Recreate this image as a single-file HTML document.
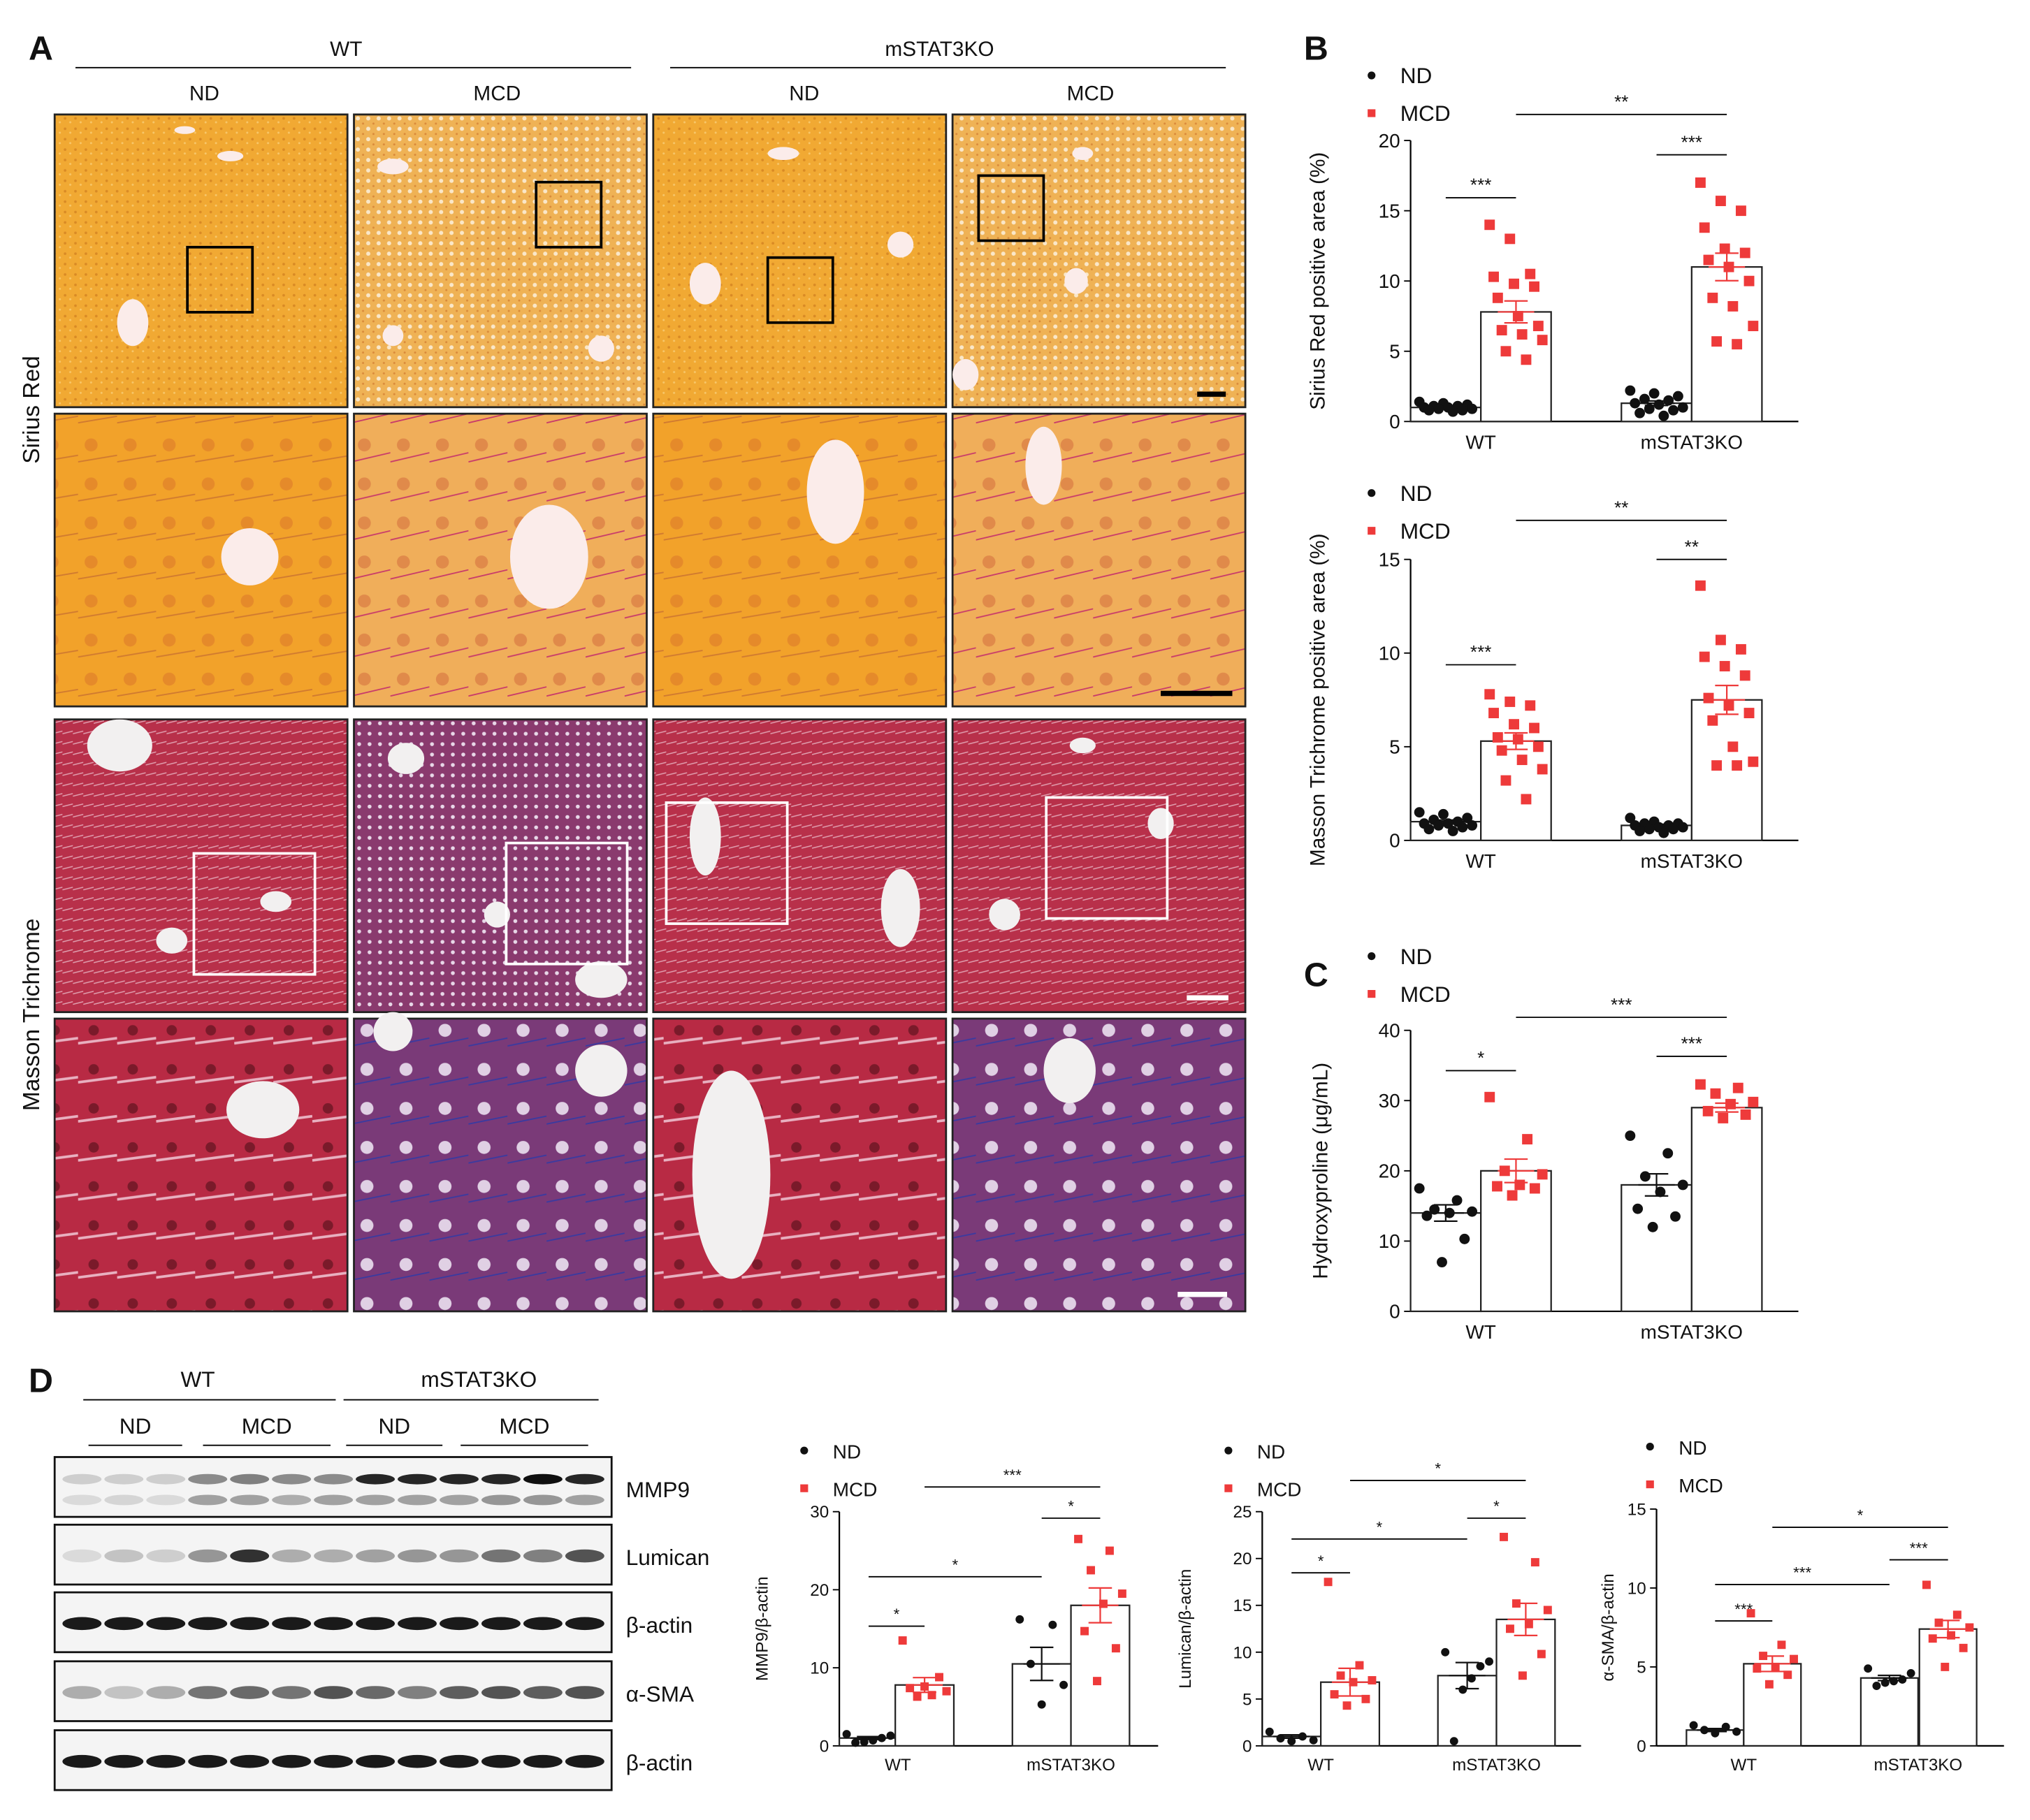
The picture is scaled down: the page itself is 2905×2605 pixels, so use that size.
<!DOCTYPE html>
<html><head><meta charset="utf-8"><style>
html,body{margin:0;padding:0;background:#fff}
svg{display:block}
text{font-family:"Liberation Sans",sans-serif;fill:#111}
</style></head><body>
<svg id="fig" width="2905" height="2605" viewBox="0 0 1560 1399" preserveAspectRatio="none" xmlns="http://www.w3.org/2000/svg">
<defs>
<pattern id="pSR" width="8" height="8" patternUnits="userSpaceOnUse"><rect width="8" height="8" fill="#f1a933"/><circle cx="2" cy="3" r="1" fill="#d98a25"/><circle cx="6" cy="6" r="0.8" fill="#f7c76a"/></pattern>
<pattern id="pSRm" width="8" height="8" patternUnits="userSpaceOnUse"><rect width="8" height="8" fill="#efb255"/><circle cx="3" cy="3" r="1.6" fill="#fae7c8"/><circle cx="7" cy="7" r="0.8" fill="#d98a3a"/></pattern>
<pattern id="pSR2" width="30" height="30" patternUnits="userSpaceOnUse"><rect width="30" height="30" fill="#f2a22a"/><circle cx="10" cy="12" r="5" fill="#e58a2a"/><path d="M0 25 L30 20" stroke="#d07a30" stroke-width="1"/></pattern>
<pattern id="pSR2m" width="30" height="30" patternUnits="userSpaceOnUse"><rect width="30" height="30" fill="#f0ae5a"/><circle cx="10" cy="12" r="5" fill="#e08a4a"/><path d="M0 25 L30 18" stroke="#c83a6a" stroke-width="1"/></pattern>
<pattern id="pMT" width="8" height="8" patternUnits="userSpaceOnUse"><rect width="8" height="8" fill="#b8304a"/><path d="M0 4 L8 2" stroke="#e0a0b0" stroke-width="0.8"/></pattern>
<pattern id="pMTm" width="8" height="8" patternUnits="userSpaceOnUse"><rect width="8" height="8" fill="#8a3a6e"/><circle cx="4" cy="4" r="1.5" fill="#e8d8e8"/></pattern>
<pattern id="pMT2" width="30" height="30" patternUnits="userSpaceOnUse"><rect width="30" height="30" fill="#b82a44"/><circle cx="12" cy="12" r="4" fill="#7a1a2a"/><path d="M0 22 L30 18" stroke="#e8b0c0" stroke-width="2"/></pattern>
<pattern id="pMT2m" width="30" height="30" patternUnits="userSpaceOnUse"><rect width="30" height="30" fill="#7a3a78"/><circle cx="12" cy="12" r="5" fill="#e0d0e4"/><path d="M0 24 L30 18" stroke="#3a3aa0" stroke-width="1"/></pattern>
</defs>
<g id="histo"></g>
<g id="blots"></g>
<g id="charts"></g>
</svg>
<script>
// ---- Chart data ----
const groups = ["WT", "mSTAT3KO"];
const seriesNames = ["ND", "MCD"];
// Sirius Red
const srTicks = [0,5,10,15,20];
const srMeans = [1.0, 7.8, 1.3, 11.0];
const srPts = [
 [1.4,1.3,1.2,1.1,1.1,1.0,1.0,0.9,0.9,0.8,0.8,0.7],
 [14,13,10.5,10.3,9.8,9.6,8.8,7.5,6.8,6.5,6.2,5.8,5,4.4],
 [2.2,2,1.8,1.6,1.5,1.3,1.2,1.0,0.9,0.8,0.6,0.4],
 [17,15.7,15,13.8,12.3,12,11.5,11,10,8.8,8.2,6.8,5.7,5.5]];
// Masson
const mtTicks = [0,5,10,15];
const mtMeans = [1.0, 5.3, 0.8, 7.5];
const mtPts = [
 [1.5,1.4,1.2,1.1,1,0.9,0.9,0.8,0.8,0.7,0.6,0.5],
 [7.8,7.4,7.2,6.8,6.2,6,5.5,5.4,5,4.8,4.3,3.8,3.2,2.2],
 [1.2,1.0,0.9,0.9,0.8,0.8,0.7,0.7,0.6,0.6,0.5,0.4],
 [13.6,10.7,10.2,9.8,9.3,8.8,7.6,7.2,6.8,6.4,5,4.2,4,4]];
// Hydroxyproline
const hpTicks = [0,10,20,30,40];
const hpMeans = [14, 20, 18, 29];
const hpPts = [
 [17.5,15.8,14.5,14.2,14,13.6,10.3,7],
 [30.5,24.5,20,19.5,18,17.8,17.5,16.5],
 [25,22.5,19.2,18,17,14.6,13.5,12],
 [32.3,31.8,31,29.8,29.5,28.5,28,27.5]];
// MMP9
const mmTicks = [0,10,20,30];
const mmMeans = [1, 7.8, 10.5, 18];
const mmPts = [
 [1.5,1.3,1,0.7,0.5,0.4],
 [13.5,8.8,7.6,7.4,7,6.5,6.3],
 [16.2,15.5,10.5,7.8,5.3],
 [26.5,25,22.5,19.5,18.2,14.7,12.5,8.3]];
// Lumican
const luTicks = [0,5,10,15,20,25];
const luMeans = [1, 6.8, 7.5, 13.5];
const luPts = [
 [1.5,1,0.8,0.6,0.5],
 [17.5,8.6,7.5,7,6.8,5.5,5,4.3],
 [10,9,8.5,7.2,6,0.5],
 [22.3,19.6,15.2,14.5,13,12.5,9.8,7.5]];
// aSMA
const smTicks = [0,5,10,15];
const smMeans = [1, 5.2, 4.3, 7.4];
const smPts = [
 [1.3,1.2,1,0.9,0.8],
 [8.4,6.4,5.7,5.5,5,4.9,4.5,3.9],
 [4.9,4.6,4.2,4.1,4,3.8],
 [10.2,8.3,7.8,7.5,7,6.8,6.2,5]];

const NS="http://www.w3.org/2000/svg";
function el(tag, attrs, parent, txt){const e=document.createElementNS(NS,tag);for(const k in attrs)e.setAttribute(k,attrs[k]);if(txt!==undefined)e.textContent=txt;parent.appendChild(e);return e;}

// ---------- Histology ----------
const H=document.getElementById('histo');
const cols=[42,272,502,732], rows=[88,318,553,783], S=225;
const fills=[["pSR","pSRm","pSR","pSRm"],["pSR2","pSR2m","pSR2","pSR2m"],["pMT","pMTm","pMT","pMT"],["pMT2","pMT2m","pMT2","pMT2m"]];
const rowNames=["sirius-red-low","sirius-red-high","masson-low","masson-high"];
const vessels=[
 [[[60,160,12,18],[135,32,10,4],[100,12,8,3]],[[30,40,12,6],[190,180,10,10],[30,170,8,8]],[[40,130,12,16],[190,100,10,10],[100,30,12,5]],[[100,30,8,5],[95,128,9,10],[10,200,10,12]]],
 [[[150,110,22,22]],[[150,110,30,40]],[[140,60,22,40]],[[70,40,14,30]]],
 [[[50,20,25,20],[170,140,12,8],[90,170,12,10]],[[40,30,14,12],[190,200,20,14],[110,150,10,10]],[[40,90,12,30],[190,145,15,30]],[[160,80,10,12],[40,150,12,12],[100,20,10,6]]],
 [[[160,70,28,22]],[[30,10,15,15],[190,40,20,20]],[[60,120,30,80]],[[90,40,20,25]]]];
const boxes=[[[102,102,50,50],[140,52,50,50],[88,110,50,50],[20,47,50,50]],null,[[107,103,93,93],[117,95,93,93],[10,64,93,93],[72,60,93,93]],null];
rows.forEach((y,r)=>cols.forEach((x,c)=>{
  const g=el('g',{},H);
  el('rect',{x:x,y:y,width:S,height:S,fill:'url(#'+fills[r][c]+')',stroke:'#222','stroke-width':1.5},g);
  vessels[r][c].forEach(v=>el('ellipse',{cx:x+v[0],cy:y+v[1],rx:v[2],ry:v[3],fill:r<2?'#fbecea':'#f2f0f0'},g));
  if(boxes[r]){const b=boxes[r][c];el('rect',{x:x+b[0],y:y+b[1],width:b[2],height:b[3],fill:'none',stroke:r<2?'#000':'#fff','stroke-width':2},g);}
}));
[[920,303,22],[892,533,55],[912,767,32],[905,995,38]].forEach((s,i)=>{const b=el('line',{x1:s[0],y1:s[1],x2:s[0]+s[2],y2:s[1],stroke:i<2?'#000':'#fff','stroke-width':4},H);});
function T(x,y,t,size,opt,parent){const o=Object.assign({x:x,y:y,'font-size':size},opt||{});return el('text',o,parent||H,t);}
let t;
t=T(22,46,'A',26,{'font-weight':'bold'});
el('line',{x1:58,y1:52,x2:485,y2:52,stroke:'#000','stroke-width':1},H);
el('line',{x1:515,y1:52,x2:942,y2:52,stroke:'#000','stroke-width':1},H);
T(266,43,'WT',16,{'text-anchor':'middle'});T(722,43,'mSTAT3KO',16,{'text-anchor':'middle'});
[[157,'ND'],[382,'MCD'],[618,'ND'],[838,'MCD']].forEach(a=>T(a[0],77,a[1],16,{'text-anchor':'middle'}));
T(0,0,'Sirius Red',18,{transform:'translate(30,315) rotate(-90)','text-anchor':'middle'});
T(0,0,'Masson Trichrome',18,{transform:'translate(30,780) rotate(-90)','text-anchor':'middle'});

// ---------- Blots ----------
const B=document.getElementById('blots');
t=T(22,1070,'D',26,{'font-weight':'bold'},B);
el('line',{x1:64,y1:1076,x2:258,y2:1076,stroke:'#000'},B);el('line',{x1:264,y1:1076,x2:460,y2:1076,stroke:'#000'},B);
T(152,1066,'WT',17,{'text-anchor':'middle'},B);T(368,1066,'mSTAT3KO',17,{'text-anchor':'middle'},B);
[[68,140,104,'ND'],[156,254,205,'MCD'],[266,340,303,'ND'],[354,452,403,'MCD']].forEach(a=>{el('line',{x1:a[0],y1:1111,x2:a[1],y2:1111,stroke:'#000'},B);T(a[2],1102,a[3],17,{'text-anchor':'middle'},B);});
const blotRows=[[1120,'MMP9'],[1172,'Lumican'],[1224,'β-actin'],[1277,'α-SMA'],[1330,'β-actin']];
const bandInt=[
 [[.15,.15,.15,.45,.5,.45,.45,.9,.9,.9,.9,1,.9],[.1,.12,.1,.35,.35,.3,.35,.35,.35,.35,.4,.4,.35]],
 [[.1,.2,.15,.4,.85,.3,.3,.35,.4,.4,.55,.5,.7]],
 [[.95,.95,.95,.95,.95,.95,.95,.95,.95,.95,.95,.95,.95]],
 [[.3,.2,.3,.55,.6,.55,.7,.6,.5,.65,.7,.65,.7]],
 [[.95,.95,.95,.95,.95,.95,.95,.95,.95,.95,.95,.95,.95]]];
blotRows.forEach((r,i)=>{
  const g=el('g',{},B);
  el('rect',{x:42,y:r[0],width:428,height:46,fill:'#f4f4f4',stroke:'#111','stroke-width':1.5},g);
  bandInt[i].forEach((row,k)=>row.forEach((v,l)=>{
    const cy=bandInt[i].length>1?(k==0?r[0]+17:r[0]+33):r[0]+24;
    const c=Math.round(240-225*v);
    el('ellipse',{cx:63+l*32.2,cy:cy,rx:15,ry:bandInt[i].length>1?4:5,fill:'rgb('+c+','+c+','+c+')'},g);
  }));
  T(481,r[0]+31,r[1],17,{},B);
});

// ---------- Charts ----------
const C=document.getElementById('charts');
function chart(cfg,means,pts,ticks){
  const g=el('g',{},C);
  const y=v=>cfg.y0-(v/cfg.ymax)*(cfg.y0-cfg.y1);
  const fs=cfg.fs;
  el('line',{x1:cfg.ax,y1:cfg.y1,x2:cfg.ax,y2:cfg.y0,stroke:'#000','stroke-width':1.2},g);
  el('line',{x1:cfg.ax,y1:cfg.y0,x2:cfg.xend,y2:cfg.y0,stroke:'#000','stroke-width':1.2},g);
  ticks.forEach(tv=>{el('line',{x1:cfg.ax-5,y1:y(tv),x2:cfg.ax,y2:y(tv),stroke:'#000'},g);
    const tl=T(cfg.ax-8,y(tv)+fs*0.35,String(tv),fs,{'text-anchor':'end'},g);});
  const yt=T(0,0,cfg.ytitle,cfg.tfs,{transform:'translate('+cfg.ytx+','+((cfg.y0+cfg.y1)/2)+') rotate(-90)','text-anchor':'middle'},g);
  
  groups.forEach((gn,gi)=>{const xl=T(cfg.bx[gi*2]+cfg.bw,cfg.y0+fs+6,gn,fs,{'text-anchor':'middle'},g);});
  means.forEach((m,i)=>{
    const x0=cfg.bx[i], red=i%2==1, col=red?'#ee3a3a':'#111';
    const bar=el('rect',{x:x0,y:y(m),width:cfg.bw,height:cfg.y0-y(m),fill:'#fff',stroke:'#222','stroke-width':1.2},g);
    
    
    const p=pts[i],n=p.length,mean=p.reduce((a,b)=>a+b,0)/n,sd=Math.sqrt(p.reduce((a,b)=>a+(b-mean)**2,0)/(n-1)),se=sd/Math.sqrt(n);
    const cx=x0+cfg.bw/2;
    el('line',{x1:cx,y1:y(m+se),x2:cx,y2:y(m-se),stroke:col,'stroke-width':1.2},g);
    [m+se,m-se].forEach(v=>el('line',{x1:cx-9,y1:y(v),x2:cx+9,y2:y(v),stroke:col,'stroke-width':1.2},g));
    el('line',{x1:cx-14,y1:y(m),x2:cx+14,y2:y(m),stroke:col,'stroke-width':1.2},g);
    const mult=(n%5==0)?3:5;
    p.forEach((v,k)=>{
      const off=((k*mult)%n/(n-1||1)-0.5)*cfg.bw*0.75;
      const d=red?el('rect',{x:cx+off-cfg.ms,y:y(v)-cfg.ms,width:cfg.ms*2,height:cfg.ms*2,fill:'#ee3a3a'},g):el('circle',{cx:cx+off,cy:y(v),r:cfg.ms,fill:'#111'},g);
      
      
    });
  });
  cfg.sig.forEach(s=>{const a=cfg.bx[s[0]]+cfg.bw/2+(s[3]||0),b=cfg.bx[s[1]]+cfg.bw/2;el('line',{x1:a,y1:s[2],x2:b,y2:s[2],stroke:'#000'},g);
    T((a+b)/2,s[2]-5,s[4],fs-1,{'text-anchor':'middle'},g);});
  const lg=el('g',{},g);
  el('circle',{cx:cfg.lx,cy:cfg.ly,r:3,fill:'#111'},lg);T(cfg.lx+22,cfg.ly+6,'ND',cfg.lfs,{},lg);
  el('rect',{x:cfg.lx-3,y:cfg.ly+26,width:6,height:6,fill:'#ee3a3a'},lg);T(cfg.lx+22,cfg.ly+35,'MCD',cfg.lfs,{},lg);
}
T(1002,46,'B',26,{'font-weight':'bold'},C);
T(1002,758,'C',26,{'font-weight':'bold'},C);
chart({name:'sirius-red-chart',ytitle:'Sirius Red positive area (%)',ax:1084,xend:1382,y0:324,y1:108,ymax:20,bx:[1084,1138,1246,1300],bw:54,fs:15,tfs:16,ytx:1018,ms:4,lx:1054,ly:58,lfs:17,
  sig:[[0,1,152,0,'***'],[1,3,88,0,'**'],[2,3,119,0,'***']]},srMeans,srPts,srTicks);
chart({name:'masson-trichrome-chart',ytitle:'Masson Trichrome positive area (%)',ax:1084,xend:1382,y0:646,y1:430,ymax:15,bx:[1084,1138,1246,1300],bw:54,fs:15,tfs:16,ytx:1018,ms:4,lx:1054,ly:379,lfs:17,
  sig:[[0,1,511,0,'***'],[1,3,400,0,'**'],[2,3,430,0,'**']]},mtMeans,mtPts,mtTicks);
chart({name:'hydroxyproline-chart',ytitle:'Hydroxyproline (μg/mL)',ax:1084,xend:1382,y0:1008,y1:792,ymax:40,bx:[1084,1138,1246,1300],bw:54,fs:15,tfs:16,ytx:1020,ms:4,lx:1054,ly:735,lfs:17,
  sig:[[0,1,823,0,'*'],[1,3,782,0,'***'],[2,3,812,0,'***']]},hpMeans,hpPts,hpTicks);
chart({name:'mmp9-chart',ytitle:'MMP9/β-actin',ax:645,xend:890,y0:1342,y1:1162,ymax:30,bx:[645,688,778,823],bw:45,fs:13,tfs:13,ytx:590,ms:3.2,lx:618,ly:1115,lfs:15,
  sig:[[0,1,1250,0,'*'],[0,2,1212,0,'*'],[1,3,1143,0,'***'],[2,3,1167,0,'*']]},mmMeans,mmPts,mmTicks);
chart({name:'lumican-chart',ytitle:'Lumican/β-actin',ax:970,xend:1215,y0:1342,y1:1162,ymax:25,bx:[970,1015,1105,1150],bw:45,fs:13,tfs:13,ytx:915,ms:3.2,lx:944,ly:1115,lfs:15,
  sig:[[0,1,1209,0,'*'],[0,2,1183,0,'*'],[1,3,1138,0,'*'],[2,3,1167,0,'*']]},luMeans,luPts,luTicks);
chart({name:'alpha-sma-chart',ytitle:'α-SMA/β-actin',ax:1273,xend:1540,y0:1342,y1:1160,ymax:15,bx:[1296,1340,1430,1475],bw:44,fs:13,tfs:13,ytx:1240,ms:3.2,lx:1268,ly:1112,lfs:15,
  sig:[[0,1,1246,0,'***'],[0,2,1218,0,'***'],[1,3,1174,0,'*'],[2,3,1199,0,'***']]},smMeans,smPts,smTicks);
</script>
</body></html>
